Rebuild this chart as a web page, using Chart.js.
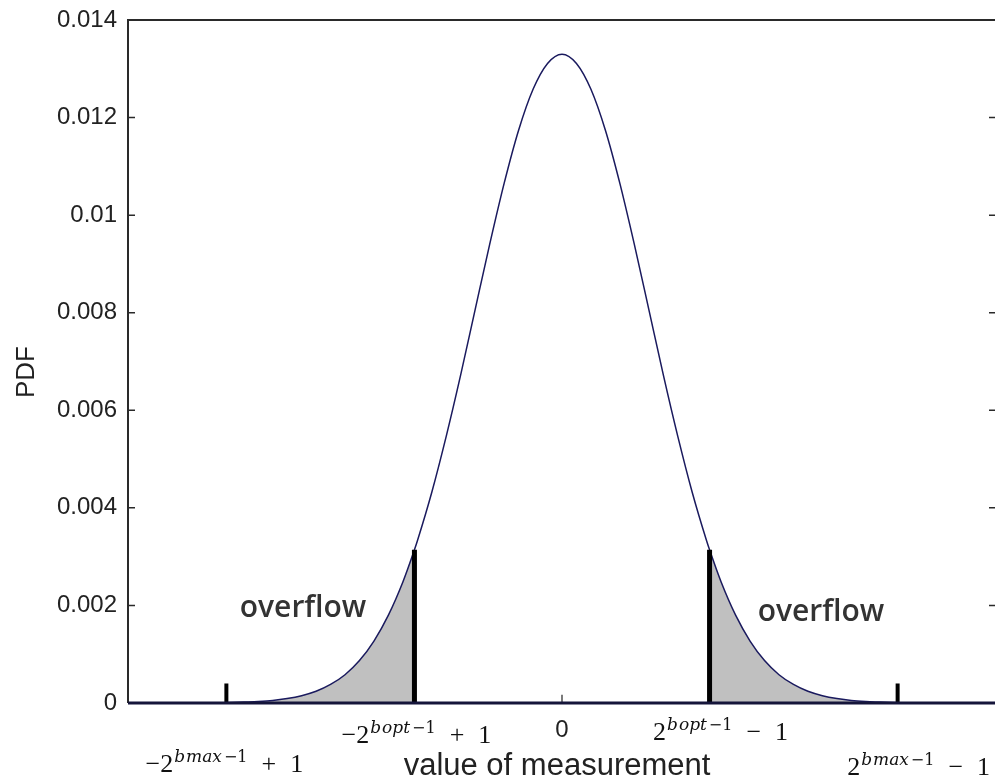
<!DOCTYPE html>
<html>
<head>
<meta charset="utf-8">
<script src="https://cdn.jsdelivr.net/npm/chart.js@4.4.1/dist/chart.umd.min.js"></script>
<style>
  html, body { margin: 0; padding: 0; background: #fff; overflow: hidden; }
  #wrap { position: absolute; left: 0; top: 0; width: 998px; height: 782px; }
</style>
</head>
<body>
<div id="wrap"><canvas id="pdf" width="998" height="782"></canvas></div>
<script>
// valores
const measX = [-150, -145, -140, -135, -130, -125, -120, -115, -110, -105, -100, -95, -90, -85, -80, -75, -70, -65, -60, -55, -50, -45, -40, -35, -30, -25, -20, -15, -10, -5,
  0, 5, 10, 15, 20, 25, 30, 35, 40, 45, 50, 55, 60, 65, 70, 75, 80, 85, 90, 95, 100, 105, 110, 115, 120, 125, 130, 135, 140, 145, 150];
const pdfY = [0, 0, 0, 0, 0, 0, 0, 0.00001, 0.00002, 0.00003, 0.00005, 0.00009, 0.00015, 0.00024, 0.00038, 0.00058, 0.00087, 0.00127, 0.00180, 0.00248, 0.00332, 0.00432, 0.00547, 0.00673, 0.00807, 0.00940, 0.01065, 0.01174, 0.01258, 0.01311,
  0.01330, 0.01311, 0.01258, 0.01174, 0.01065, 0.00940, 0.00807, 0.00673, 0.00547, 0.00432, 0.00332, 0.00248, 0.00180, 0.00127, 0.00087, 0.00058, 0.00038, 0.00024, 0.00015, 0.00009, 0.00005, 0.00003, 0.00002, 0.00001, 0, 0, 0, 0, 0, 0, 0];
const cutX = 51;          // 2^(bopt-1) - 1
const cutPdf = 0.00314;   // altura da barra no corte
const maxX = 116;         // 2^(bmax-1) - 1
const maxMark = 0.0004;
const zeroMark = 0.00017;
const yTickValues = [0, 0.002, 0.004, 0.006, 0.008, 0.01, 0.012, 0.014];
const yTickLabels = ['0', '0.002', '0.004', '0.006', '0.008', '0.01', '0.012', '0.014'];
const xLabelValues = [-maxX, -cutX, 0, cutX, maxX];
const xLabelParts = [
  ['−2', 'b', 'max', '−1', '+', '1'],
  ['−2', 'b', 'opt', '−1', '+', '1'],
  ['0'],
  ['2', 'b', 'opt', '−1', '−', '1'],
  ['2', 'b', 'max', '−1', '−', '1']
];
const overflowText = 'overflow';
const overflowAt = [{ x: -89.5, y: 0.00176 }, { x: 89.5, y: 0.00168 }];

const labelStyle = [
  { dx: -2, base: 772 },
  { dx: 2, base: 743 },
  { dx: 0, base: 737 },
  { dx: 11, base: 740 },
  { dx: 21, base: 775 }
];

const pts = measX.map((x, i) => ({ x, y: pdfY[i] }));
const curve = pts.concat([{ x: -cutX, y: cutPdf }, { x: cutX, y: cutPdf }]).sort((a, b) => a.x - b.x);
const leftTail = curve.filter(p => p.x <= -cutX);
const rightTail = curve.filter(p => p.x >= cutX);

function drawMath(ctx, parts, cx, base) {
  const baseFont = '26px "Liberation Serif"';
  const supFont = 'italic 17px "DejaVu Serif"';
  const supSmall = '16px "DejaVu Serif"';
  const segs = [
    { t: parts[0], f: baseFont, dy: 0, gap: 0 },
    { t: parts[1], f: supFont, dy: -10, gap: 1 },
    { t: parts[2], f: supFont, dy: -10, gap: 1 },
    { t: parts[3], f: supSmall, dy: -10, gap: 2 },
    { t: parts[4], f: baseFont, dy: 0, gap: 14 },
    { t: parts[5], f: baseFont, dy: 0, gap: 14 }
  ];
  let w = 0;
  segs.forEach(s => { ctx.font = s.f; s.w = ctx.measureText(s.t).width; w += s.gap + s.w; });
  let x = cx - w / 2;
  ctx.textAlign = 'left';
  ctx.textBaseline = 'alphabetic';
  segs.forEach(s => {
    x += s.gap;
    ctx.font = s.f;
    ctx.fillText(s.t, x, base + s.dy);
    x += s.w;
  });
}

const framePlugin = {
  id: 'frame',
  afterDatasetsDraw(chart) {
    const { ctx, chartArea: a, scales: { x, y } } = chart;
    ctx.save();
    // moldura
    ctx.strokeStyle = '#2a2a2a';
    ctx.lineWidth = 2;
    ctx.beginPath();
    ctx.moveTo(a.left, a.bottom);
    ctx.lineTo(a.left, a.top);
    ctx.lineTo(a.right, a.top);
    ctx.lineTo(a.right, a.bottom);
    ctx.stroke();
    ctx.strokeStyle = '#15153a';
    ctx.lineWidth = 3;
    ctx.beginPath();
    ctx.moveTo(a.left, y.getPixelForValue(0));
    ctx.lineTo(a.right, y.getPixelForValue(0));
    ctx.stroke();

    // ticks do eixo y
    ctx.strokeStyle = '#2a2a2a';
    ctx.lineWidth = 1.5;
    ctx.fillStyle = '#222';
    ctx.font = '24px "Liberation Sans"';
    ctx.textAlign = 'right';
    ctx.textBaseline = 'middle';
    yTickValues.forEach((v, i) => {
      const py = y.getPixelForValue(v);
      if (i > 0 && i < yTickValues.length - 1) {
        ctx.beginPath();
        ctx.moveTo(a.left, py); ctx.lineTo(a.left + 7, py);
        ctx.moveTo(a.right, py); ctx.lineTo(a.right - 7, py);
        ctx.stroke();
      }
      ctx.fillText(yTickLabels[i], a.left - 11, py);
    });

    // rotulos do eixo x
    ctx.fillStyle = '#111';
    xLabelValues.forEach((v, i) => {
      const cx = x.getPixelForValue(v) + labelStyle[i].dx;
      const parts = xLabelParts[i];
      if (parts.length === 1) {
        ctx.font = '24px "Liberation Sans"';
        ctx.fillStyle = '#222';
        ctx.textAlign = 'center';
        ctx.textBaseline = 'alphabetic';
        ctx.fillText(parts[0], cx, labelStyle[i].base);
        ctx.fillStyle = '#111';
      } else {
        drawMath(ctx, parts, cx, labelStyle[i].base);
      }
    });

    // titulos
    ctx.fillStyle = '#222';
    ctx.font = '31px "Liberation Sans"';
    ctx.textAlign = 'center';
    ctx.textBaseline = 'alphabetic';
    ctx.fillText('value of measurement', 557, 775);
    ctx.save();
    ctx.translate(34, 372);
    ctx.rotate(-Math.PI / 2);
    ctx.font = '26px "Liberation Sans"';
    ctx.textBaseline = 'alphabetic';
    ctx.fillText('PDF', 0, 0);
    ctx.restore();

    // overflow
    ctx.fillStyle = '#333';
    ctx.font = '600 30px "Open Sans"';
    ctx.textAlign = 'center';
    overflowAt.forEach(p => ctx.fillText(overflowText, x.getPixelForValue(p.x), y.getPixelForValue(p.y)));
    ctx.restore();
  }
};

const lineBase = { pointRadius: 0, fill: false, tension: 0 };

new Chart(document.getElementById('pdf'), {
  type: 'line',
  data: {
    datasets: [
      { data: leftTail, borderWidth: 0, backgroundColor: '#c0c0c0', fill: 'origin', pointRadius: 0, cubicInterpolationMode: 'monotone', order: 5 },
      { data: rightTail, borderWidth: 0, backgroundColor: '#c0c0c0', fill: 'origin', pointRadius: 0, cubicInterpolationMode: 'monotone', order: 5 },
      { data: curve, borderColor: '#1a1a5e', borderWidth: 1.5, pointRadius: 0, fill: false, cubicInterpolationMode: 'monotone', order: 4 },
      { ...lineBase, data: [{ x: -cutX, y: 0 }, { x: -cutX, y: cutPdf }], borderColor: '#000', borderWidth: 5, order: 1 },
      { ...lineBase, data: [{ x: cutX, y: 0 }, { x: cutX, y: cutPdf }], borderColor: '#000', borderWidth: 5, order: 1 },
      { ...lineBase, data: [{ x: -maxX, y: 0 }, { x: -maxX, y: maxMark }], borderColor: '#000', borderWidth: 4, order: 1 },
      { ...lineBase, data: [{ x: maxX, y: 0 }, { x: maxX, y: maxMark }], borderColor: '#000', borderWidth: 4, order: 1 },
      { ...lineBase, data: [{ x: 0, y: 0 }, { x: 0, y: zeroMark }], borderColor: '#222', borderWidth: 1.2, order: 1 }
    ]
  },
  options: {
    responsive: false,
    animation: false,
    devicePixelRatio: 1,
    layout: { padding: { left: 128, top: 20, right: 2, bottom: 79 } },
    plugins: { legend: { display: false }, tooltip: { enabled: false } },
    scales: {
      x: { type: 'linear', min: -150, max: 150, display: false },
      y: { min: 0, max: 0.014, display: false }
    }
  },
  plugins: [framePlugin]
});
</script>
</body>
</html>
